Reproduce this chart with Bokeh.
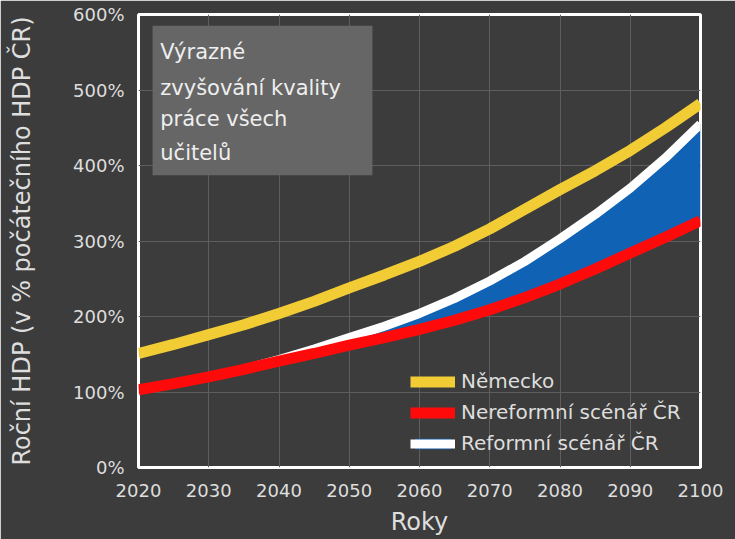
from bokeh.plotting import figure
from bokeh.models import Range1d, Label, BoxAnnotation, Legend, LegendItem, FixedTicker, CustomJSTickFormatter
from bokeh.embed import file_html
from bokeh.resources import INLINE

# ---- data ----
years = [2020, 2025, 2030, 2035, 2040, 2045, 2050, 2055, 2060,
         2065, 2070, 2075, 2080, 2085, 2090, 2095, 2100]
nemecko = [151, 163, 176, 189, 204, 220, 238, 255, 273,
           293, 316, 342, 368, 393, 420, 450, 482]
nereformni = [103, 111, 120, 130, 141, 151, 162, 172, 183,
              195, 209, 225, 243, 263, 284, 305, 327]
reformni = [103, 111, 120, 130, 143, 157, 172, 187, 204,
            224, 247, 273, 303, 335, 370, 410, 455]
y_ticks = [0, 100, 200, 300, 400, 500, 600]
x_ticks = [2020, 2030, 2040, 2050, 2060, 2070, 2080, 2090, 2100]
labels = ["Německo", "Nereformní scénář ČR", "Reformní scénář ČR"]
dropdown_lines = ["Výrazné", "zvyšování kvality", "práce všech", "učitelů"]

BG = "#3c3c3c"
FONT = "DejaVu Sans"
TXT = "#dedede"

p = figure(width=735, height=539, output_backend="svg", toolbar_location=None,
           x_range=Range1d(2020, 2100), y_range=Range1d(0, 600),
           min_border_left=138, min_border_top=14, min_border_right=35, min_border_bottom=72)
p.background_fill_color = BG
p.border_fill_color = BG
p.outline_line_color = "white"
p.outline_line_width = 3

# grid
p.xgrid.ticker = FixedTicker(ticks=x_ticks)
p.ygrid.ticker = FixedTicker(ticks=y_ticks)
p.grid.grid_line_color = "#5e5e5e"
p.grid.grid_line_width = 1

# axes
for ax in (p.xaxis[0], p.yaxis[0]):
    ax.axis_line_color = None
    ax.major_tick_line_color = None
    ax.minor_tick_line_color = None
    ax.major_label_text_color = TXT
    ax.major_label_text_font = FONT
    ax.major_label_text_font_size = "18px"
    ax.axis_label_text_color = TXT
    ax.axis_label_text_font = FONT
    ax.axis_label_text_font_style = "normal"
    ax.axis_label_text_font_size = "24px"
p.xaxis.ticker = FixedTicker(ticks=x_ticks)
p.yaxis.ticker = FixedTicker(ticks=y_ticks)
p.yaxis.formatter = CustomJSTickFormatter(code="return tick + '%';")
p.xaxis.major_label_standoff = 10
p.yaxis.major_label_standoff = 8
p.xaxis.axis_label = "Roky"
p.xaxis.axis_label_standoff = 8
p.yaxis.axis_label = "Roční HDP (v % počátečního HDP ČR)"
p.yaxis.axis_label_standoff = 34

# series
area = p.varea(x=years, y1=nereformni, y2=reformni, fill_color="#0f62b4")
wl = p.line(years, reformni, line_color="white", line_width=9)
rl = p.line(years, nereformni, line_color="#ff0a0a", line_width=11)
yl = p.line(years, nemecko, line_color="#f2cc35", line_width=11)

legend = Legend(items=[LegendItem(label=labels[0], renderers=[yl]),
                       LegendItem(label=labels[1], renderers=[rl]),
                       LegendItem(label=labels[2], renderers=[area, wl])],
                location=(272, 12), background_fill_alpha=0, border_line_color=None,
                label_text_color=TXT, label_text_font=FONT, label_text_font_size="20px",
                glyph_width=45, glyph_height=13, label_height=24, spacing=7,
                padding=5, margin=0, label_standoff=6)
p.add_layout(legend)

# dropdown box (UI overlay)
box = BoxAnnotation(left=2022.0, right=2053.3, bottom=387, top=585,
                    fill_color="#666666", fill_alpha=1, line_color=None)
p.add_layout(box)
line_y = [550, 502, 462, 417]
for t, yy in zip(dropdown_lines, line_y):
    p.add_layout(Label(x=2023.1, y=yy, text=t, text_color="#eeeeee", text_font=FONT,
                       text_font_size="21px", text_baseline="middle"))
p.scatter(x=[2050.7], y=[489], marker="inverted_triangle", size=11, fill_color="#f4f4f4", line_color=None)

open("out.html", "w").write(file_html(p, INLINE))
